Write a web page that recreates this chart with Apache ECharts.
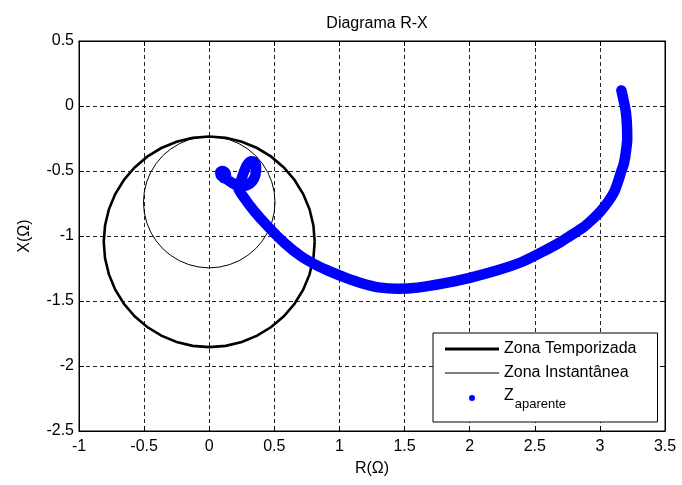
<!DOCTYPE html>
<html>
<head>
<meta charset="utf-8">
<script src="https://cdn.jsdelivr.net/npm/echarts@6/dist/echarts.min.js"></script>
<style>
  html, body { margin: 0; padding: 0; background: #fff; }
  #chart { width: 682px; height: 485px; }
</style>
</head>
<body>
<div id="chart"></div>
<script>
// Axis ticks
const rTicks = [-1, -0.5, 0, 0.5, 1, 1.5, 2, 2.5, 3, 3.5];
const xTicks = [-2.5, -2, -1.5, -1, -0.5, 0, 0.5];

// Relay zones: centre (R, X) and radius, in ohms
const zonaTemporizada = [0, -1.045, 0.81];
const zonaInstantanea = [0, -0.74, 0.505];

// Apparent impedance trajectory (R, X) in ohms, from load point to fault
const zR = [3.165, 3.185, 3.2, 3.208, 3.21, 3.2, 3.185, 3.165, 3.14, 3.11,
            3.06, 3.0, 2.94, 2.87, 2.77, 2.7, 2.6, 2.4, 2.2, 2.0,
            1.8, 1.6, 1.45, 1.3, 1.17, 1.05, 0.94, 0.837, 0.708, 0.579,
            0.451, 0.347, 0.27, 0.22, 0.245, 0.265, 0.29, 0.32, 0.345, 0.36,
            0.355, 0.33, 0.29, 0.24, 0.19, 0.15, 0.115, 0.09, 0.085, 0.1,
            0.125, 0.13, 0.11];
const zX = [0.12, 0.03, -0.05, -0.15, -0.25, -0.35, -0.44, -0.5, -0.58, -0.66,
            -0.74, -0.815, -0.875, -0.935, -1.0, -1.045, -1.1, -1.2, -1.268, -1.322,
            -1.365, -1.397, -1.406, -1.395, -1.363, -1.322, -1.278, -1.232, -1.158, -1.055,
            -0.927, -0.81, -0.709, -0.62, -0.57, -0.51, -0.455, -0.425, -0.43, -0.47,
            -0.53, -0.58, -0.61, -0.62, -0.6, -0.575, -0.55, -0.535, -0.51, -0.5,
            -0.515, -0.54, -0.555];

const FONT = "'Liberation Sans', Arial, Helvetica, sans-serif";
const FS = 16;

const zPoints = zR.map((r, i) => [r, zX[i]]);

// Draws a zone circle from its centre and radius through the axis scales
function circleItem(lineWidth) {
  return function (params, api) {
    const cx = api.value(0), cy = api.value(1), rad = api.value(2);
    const n = 40;
    const pts = [];
    for (let k = 0; k <= n; k++) {
      const t = (2 * Math.PI * k) / n;
      pts.push(api.coord([cx + rad * Math.cos(t), cy + rad * Math.sin(t)]));
    }
    return {
      type: 'polyline',
      shape: { points: pts },
      style: { fill: null, stroke: '#000', lineWidth: lineWidth }
    };
  };
}

const chart = echarts.init(document.getElementById('chart'), null, { renderer: 'canvas' });

const gridLine = { show: true, lineStyle: { color: '#222', width: 1, type: [4, 3] } };

chart.setOption({
  backgroundColor: '#fff',
  animation: false,
  textStyle: { fontFamily: FONT, color: '#000' },
  title: {
    text: 'Diagrama R-X',
    left: 372,
    textAlign: 'center',
    top: 11,
    textStyle: { fontFamily: FONT, fontSize: FS, fontWeight: 'normal', color: '#000' }
  },
  grid: { left: 79, right: 17, top: 41, bottom: 54, show: true, borderColor: '#000', borderWidth: 1 },
  xAxis: [{
    type: 'value', min: rTicks[0], max: rTicks[rTicks.length - 1], interval: 0.5,
    name: 'R(Ω)', nameLocation: 'middle', nameGap: 30,
    nameTextStyle: { fontFamily: FONT, fontSize: FS, color: '#000' },
    axisLine: { show: true, onZero: false, lineStyle: { color: '#000', width: 1 } },
    axisTick: { show: true, inside: true, length: 5, lineStyle: { color: '#000' } },
    axisLabel: { fontFamily: FONT, fontSize: FS, color: '#000', margin: 8 },
    splitLine: gridLine
  }, {
    type: 'value', position: 'top', min: rTicks[0], max: rTicks[rTicks.length - 1], interval: 0.5,
    axisLine: { show: true, onZero: false, lineStyle: { color: '#000' } },
    axisTick: { show: true, inside: true, length: 5, lineStyle: { color: '#000' } },
    axisLabel: { show: false }, splitLine: { show: false }
  }],
  yAxis: [{
    type: 'value', min: xTicks[0], max: xTicks[xTicks.length - 1], interval: 0.5,
    name: 'X(Ω)', nameLocation: 'middle', nameGap: 46, nameRotate: 90,
    nameTextStyle: { fontFamily: FONT, fontSize: FS, color: '#000' },
    axisLine: { show: true, onZero: false, lineStyle: { color: '#000', width: 1 } },
    axisTick: { show: true, inside: true, length: 5, lineStyle: { color: '#000' } },
    axisLabel: { fontFamily: FONT, fontSize: FS, color: '#000', margin: 5 },
    splitLine: gridLine
  }, {
    type: 'value', position: 'right', min: xTicks[0], max: xTicks[xTicks.length - 1], interval: 0.5,
    axisLine: { show: true, onZero: false, lineStyle: { color: '#000' } },
    axisTick: { show: true, inside: true, length: 5, lineStyle: { color: '#000' } },
    axisLabel: { show: false }, splitLine: { show: false }
  }],
  legend: {
    orient: 'vertical',
    left: 433, top: 333,
    padding: [7, 21, 5, 12],
    itemGap: 6,
    itemWidth: 54, itemHeight: 6,
    backgroundColor: '#fff',
    borderColor: '#000', borderWidth: 1, borderRadius: 0,
    selectedMode: false,
    textStyle: {
      fontFamily: FONT, fontSize: FS, color: '#000', lineHeight: 18,
      rich: {
        z: { fontFamily: FONT, fontSize: FS, color: '#000', lineHeight: 20, verticalAlign: 'top' },
        s: { fontFamily: FONT, fontSize: 13, color: '#000', lineHeight: 14, padding: [10, 0, 6, 1], verticalAlign: 'top' }
      }
    },
    formatter: function (name) {
      return name === 'Zaparente' ? '{z|Z}{s|aparente}' : name;
    },
    data: [
      { name: 'Zona Temporizada', icon: 'path://M0,0H100V6H0Z', itemStyle: { color: '#000', borderWidth: 0 } },
      { name: 'Zona Instantânea', icon: 'path://M0,0H100V1.9H0Z', itemStyle: { color: '#000', borderWidth: 0 } },
      { name: 'Zaparente', icon: 'circle', itemStyle: { color: '#0000ff', borderWidth: 0 } }
    ]
  },
  series: [
    {
      name: 'Zona Temporizada', type: 'custom', renderItem: circleItem(2.6),
      itemStyle: { color: '#000' }, encode: { x: 0, y: 1 },
      data: [zonaTemporizada], z: 3
    },
    {
      name: 'Zona Instantânea', type: 'custom', renderItem: circleItem(1),
      itemStyle: { color: '#000' }, encode: { x: 0, y: 1 },
      data: [zonaInstantanea], z: 3
    },
    {
      name: 'Zaparente', type: 'line', data: zPoints,
      showSymbol: false, symbol: 'circle', smooth: 0.3,
      itemStyle: { color: '#0000ff' },
      lineStyle: { color: '#0000ff', width: 10.5, cap: 'round', join: 'round' },
      z: 4
    }
  ]
});
</script>
</body>
</html>
